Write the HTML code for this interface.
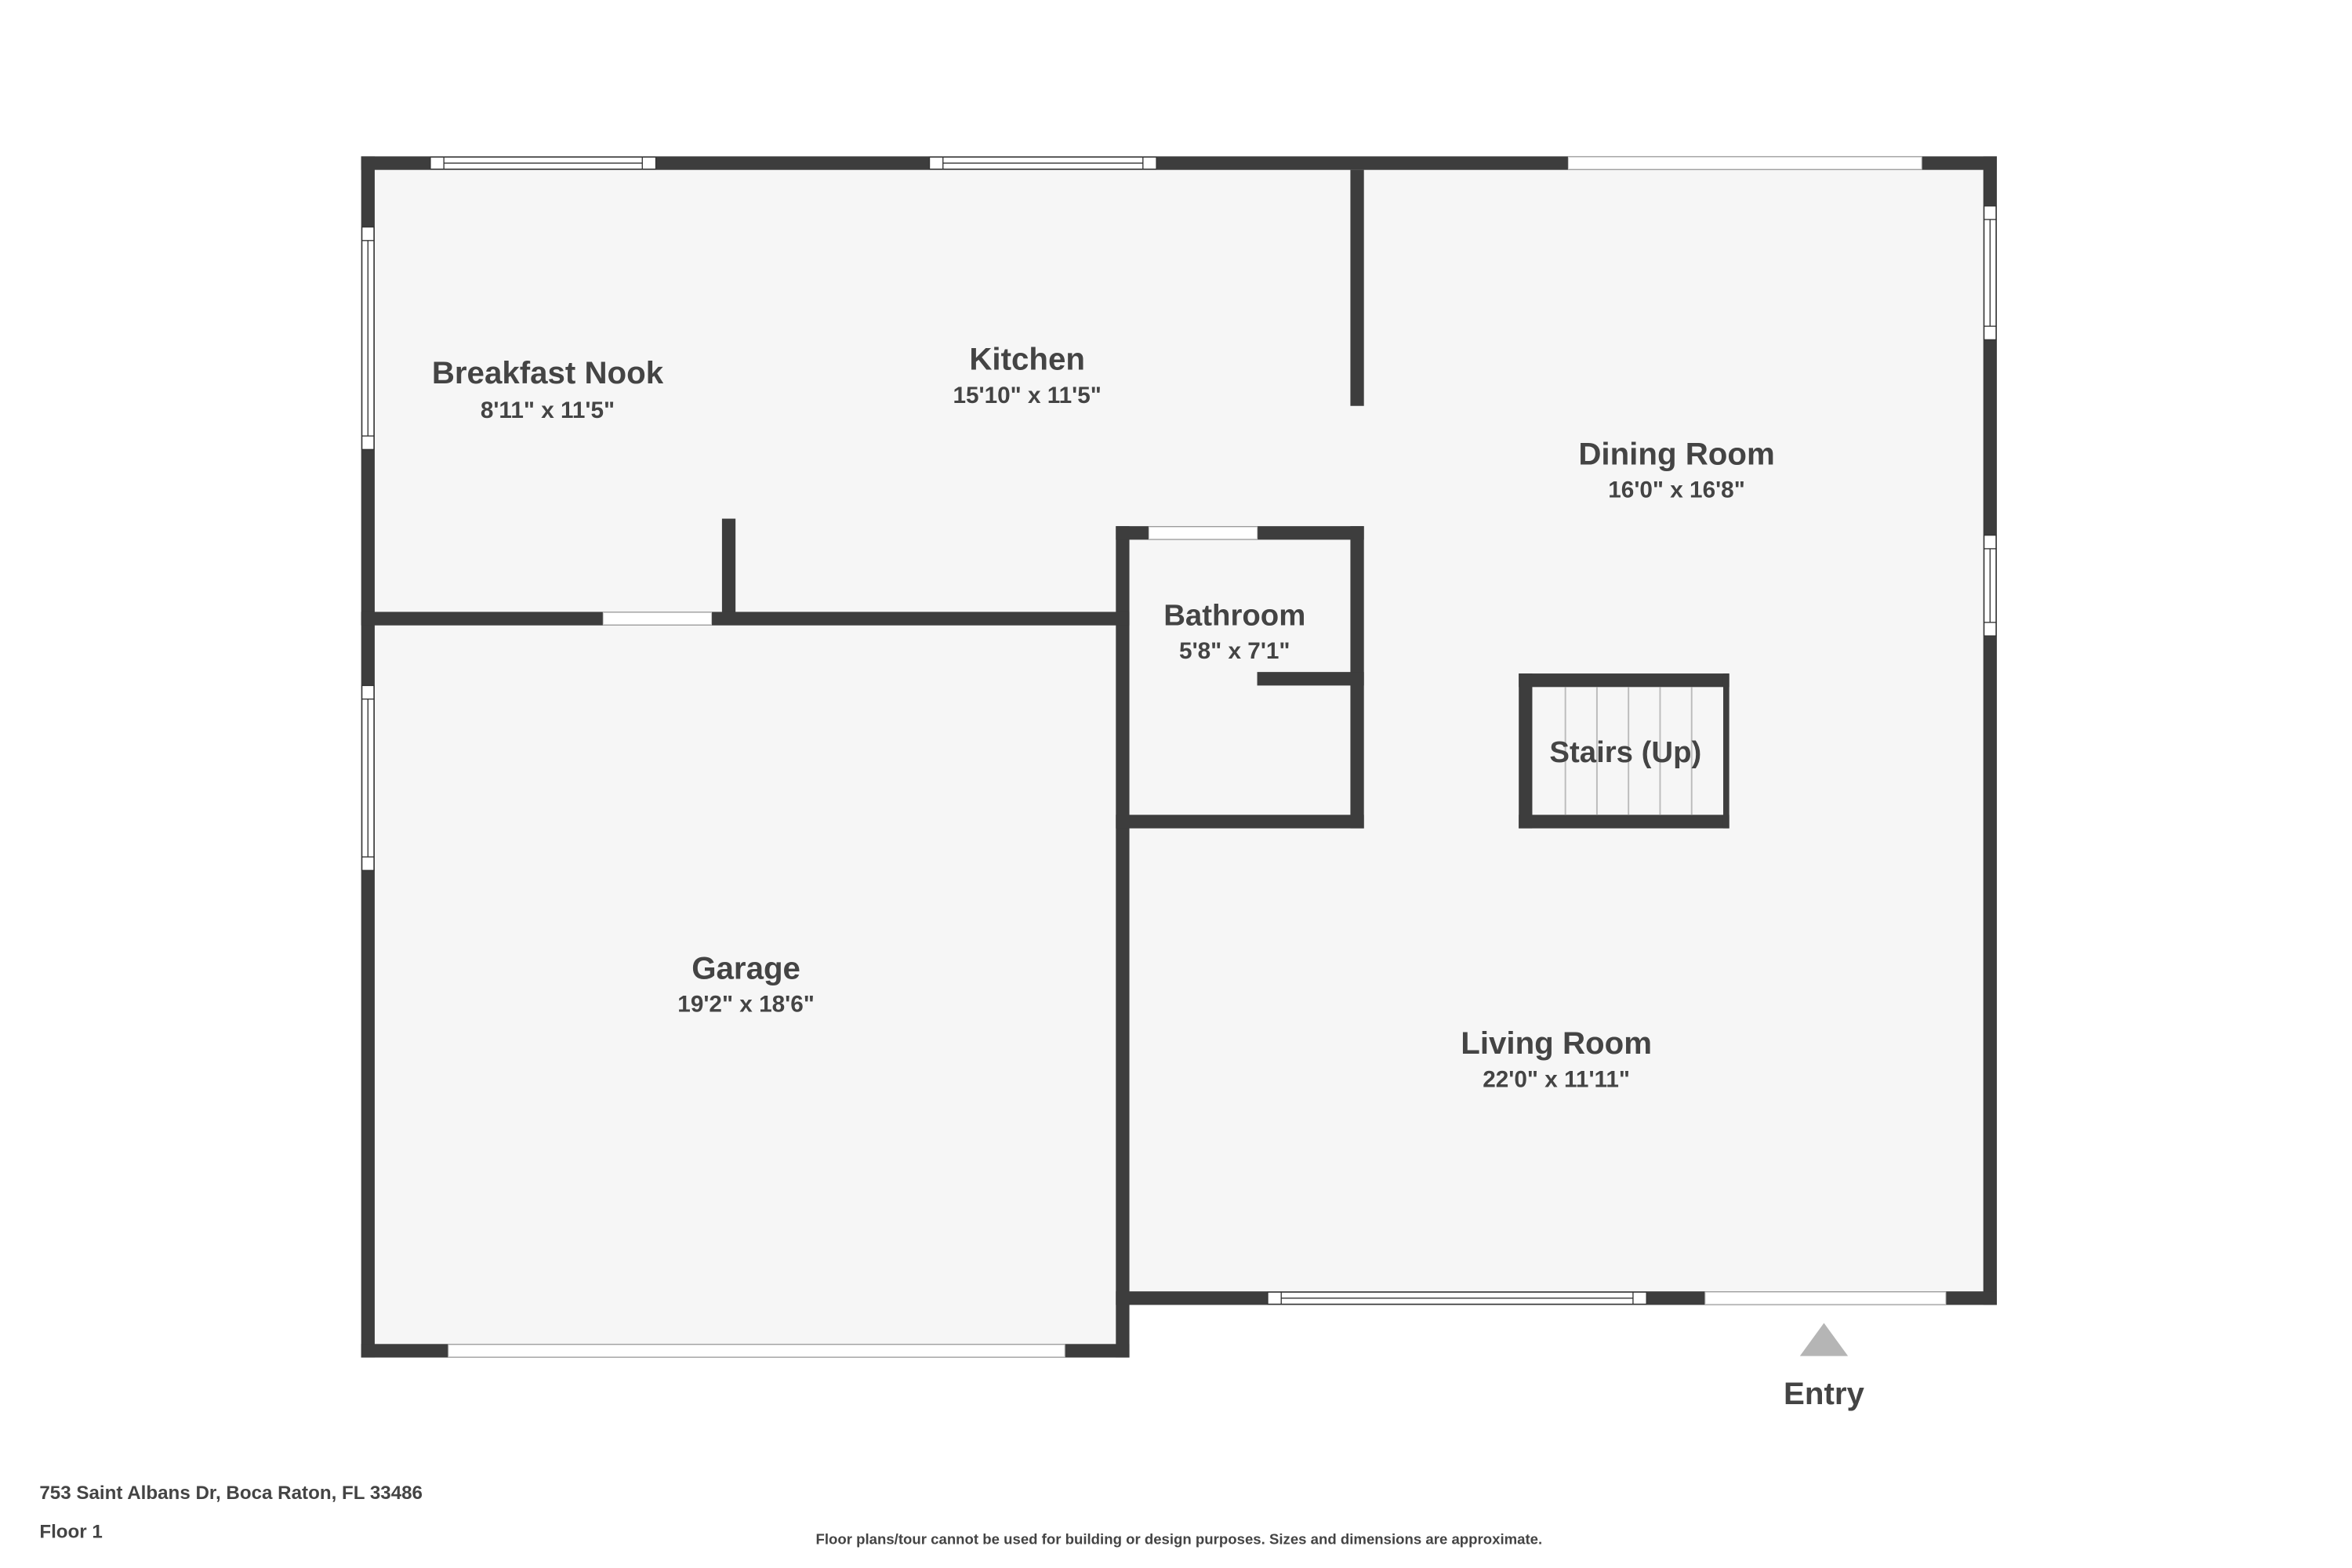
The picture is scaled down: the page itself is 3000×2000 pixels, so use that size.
<!DOCTYPE html>
<html><head><style>html,body{margin:0;padding:0;background:#fff}svg{display:block}</style></head>
<body>
<svg width="3000" height="2000" viewBox="0 0 1564 1043" xmlns="http://www.w3.org/2000/svg" font-family="Liberation Sans, sans-serif" font-weight="bold">
<rect x="240" y="104" width="1088" height="764" fill="#f6f6f6"/>
<rect x="240" y="407" width="511" height="496" fill="#f6f6f6"/>
<g fill="#3d3d3d">
<rect x="240" y="104" width="1088" height="9"/>
<rect x="240" y="104" width="9" height="799"/>
<rect x="1319" y="104" width="9" height="764"/>
<rect x="742" y="859" width="586" height="9"/>
<rect x="240" y="894" width="511" height="9"/>
<rect x="742" y="350" width="9" height="553"/>
<rect x="898" y="113" width="9" height="157"/>
<rect x="480" y="345" width="9" height="67"/>
<rect x="240" y="407" width="511" height="9"/>
<rect x="742" y="350" width="165" height="9"/>
<rect x="898" y="350" width="9" height="201"/>
<rect x="742" y="542" width="165" height="9"/>
<rect x="836" y="447" width="71" height="9"/>
<rect x="1010" y="448" width="140" height="9"/>
<rect x="1010" y="542" width="140" height="9"/>
<rect x="1010" y="448" width="9" height="103"/>
<rect x="1146" y="448" width="4" height="103"/>
</g>
<g stroke="#bbb" stroke-width="1">
<line x1="1041" y1="457" x2="1041" y2="542"/><line x1="1062" y1="457" x2="1062" y2="542"/>
<line x1="1083" y1="457" x2="1083" y2="542"/><line x1="1104" y1="457" x2="1104" y2="542"/>
<line x1="1125" y1="457" x2="1125" y2="542"/>
</g>
<g fill="#fff" stroke="#ccc" stroke-width="0.6">
<rect x="1043" y="104.5" width="235" height="8"/>
<rect x="401" y="407.5" width="72" height="8"/>
<rect x="764" y="350.5" width="72" height="8"/>
<rect x="1134" y="859.5" width="160" height="8"/>
<rect x="298" y="894.5" width="410" height="8"/>
</g>
<g fill="#fff" stroke="#333" stroke-width="0.7">
<rect x="286" y="104.5" width="150" height="8"/><line x1="295" y1="104.5" x2="295" y2="112.5"/><line x1="427" y1="104.5" x2="427" y2="112.5"/><line x1="295" y1="108.5" x2="427" y2="108.5"/>
<rect x="618" y="104.5" width="151" height="8"/><line x1="627" y1="104.5" x2="627" y2="112.5"/><line x1="760" y1="104.5" x2="760" y2="112.5"/><line x1="627" y1="108.5" x2="760" y2="108.5"/>
<rect x="843" y="859.5" width="252" height="8"/><line x1="852" y1="859.5" x2="852" y2="867.5"/><line x1="1086" y1="859.5" x2="1086" y2="867.5"/><line x1="852" y1="863.5" x2="1086" y2="863.5"/>
<rect x="240.5" y="151" width="8" height="148"/><line x1="240.5" y1="160" x2="248.5" y2="160"/><line x1="240.5" y1="290" x2="248.5" y2="290"/><line x1="244.5" y1="160" x2="244.5" y2="290"/>
<rect x="240.5" y="456" width="8" height="123"/><line x1="240.5" y1="465" x2="248.5" y2="465"/><line x1="240.5" y1="570" x2="248.5" y2="570"/><line x1="244.5" y1="465" x2="244.5" y2="570"/>
<rect x="1319.5" y="137" width="8" height="89"/><line x1="1319.5" y1="146" x2="1327.5" y2="146"/><line x1="1319.5" y1="217" x2="1327.5" y2="217"/><line x1="1323.5" y1="146" x2="1323.5" y2="217"/>
<rect x="1319.5" y="356" width="8" height="67"/><line x1="1319.5" y1="365" x2="1327.5" y2="365"/><line x1="1319.5" y1="414" x2="1327.5" y2="414"/><line x1="1323.5" y1="365" x2="1323.5" y2="414"/>
</g>
<polygon points="1197,902 1229,902 1213,880" fill="#b5b5b5"/>
<g fill="#444" text-anchor="middle">
<text x="364" y="255" font-size="21">Breakfast Nook</text><text x="364" y="278" font-size="15.5">8'11" x 11'5"</text>
<text x="683" y="246" font-size="21">Kitchen</text><text x="683" y="268" font-size="15.5">15'10" x 11'5"</text>
<text x="1115" y="309" font-size="21">Dining Room</text><text x="1115" y="331" font-size="15.5">16'0" x 16'8"</text>
<text x="821" y="416" font-size="20">Bathroom</text><text x="821" y="438" font-size="15.5">5'8" x 7'1"</text>
<text x="1081" y="507" font-size="20">Stairs (Up)</text>
<text x="496" y="651" font-size="21">Garage</text><text x="496" y="673" font-size="15.5">19'2" x 18'6"</text>
<text x="1035" y="701" font-size="21">Living Room</text><text x="1035" y="723" font-size="15.5">22'0" x 11'11"</text>
<text x="1213" y="934" font-size="21">Entry</text>
<text x="784" y="1027" font-size="9.7">Floor plans/tour cannot be used for building or design purposes. Sizes and dimensions are approximate.</text>
</g>
<g fill="#444">
<text x="26" y="997" font-size="12.6">753 Saint Albans Dr, Boca Raton, FL 33486</text>
<text x="26" y="1023" font-size="12.6">Floor 1</text>
</g>
</svg>
</body></html>
